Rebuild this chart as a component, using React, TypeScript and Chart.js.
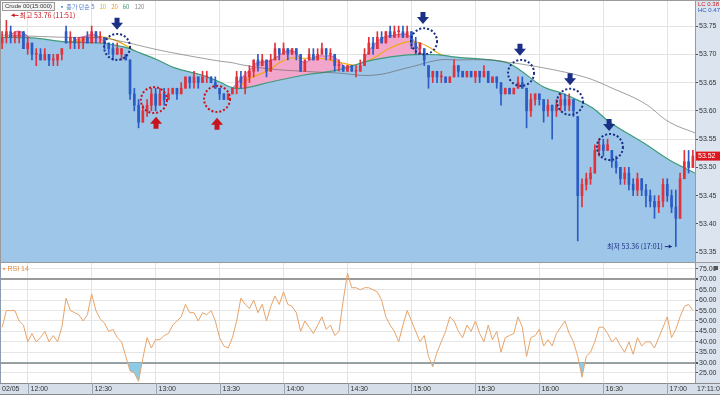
import React, { useEffect, useRef } from "react";
import { Chart, registerables } from "chart.js";
Chart.register(...registerables);

// ---- data: 2-minute candles starting 11:47 (slot i sits at minute 2i+1) ----
const candleOpen = [
  53.72, 53.73, 53.74, 53.73, 53.73, 53.74, 53.71, 53.72, 53.70, 53.70,
  53.69, 53.70, 53.69, 53.69, 53.70, 53.74, 53.72, 53.73, 53.72, 53.72,
  53.73, 53.72, 53.74, 53.73, 53.73, 53.72, 53.71, 53.70, 53.70, 53.70,
  53.69, 53.63, 53.61, 53.58, 53.60, 53.61, 53.63, 53.61, 53.63, 53.62,
  53.63, 53.64, 53.63, 53.64, 53.66, 53.65, 53.66, 53.65, 53.66, 53.66,
  53.65, 53.64, 53.63, 53.62, 53.63, 53.64, 53.66, 53.64, 53.66, 53.67,
  53.69, 53.68, 53.69, 53.67, 53.69, 53.71, 53.70, 53.71, 53.70, 53.71,
  53.70, 53.67, 53.69, 53.70, 53.69, 53.70, 53.71, 53.70, 53.70, 53.68,
  53.68, 53.67, 53.68, 53.67, 53.67, 53.68, 53.70, 53.72, 53.71, 53.73,
  53.72, 53.74, 53.73, 53.74, 53.74, 53.73, 53.74, 53.72, 53.71, 53.71,
  53.68, 53.66, 53.67, 53.66, 53.66, 53.65, 53.66, 53.68, 53.67, 53.66,
  53.67, 53.66, 53.67, 53.66, 53.67, 53.65, 53.66, 53.65, 53.63, 53.64,
  53.63, 53.64, 53.65, 53.64, 53.60, 53.62, 53.63, 53.62, 53.60, 53.61,
  53.60, 53.61, 53.62, 53.61, 53.62, 53.59, 53.45, 53.47, 53.48, 53.49,
  53.53, 53.54, 53.53, 53.53, 53.51, 53.50, 53.48, 53.49, 53.47, 53.46,
  53.48, 53.46, 53.45, 53.44, 53.43, 53.44, 53.47, 53.45, 53.43, 53.41,
  53.48, 53.51, 53.50,
];
const candleClose = [
  53.73, 53.74, 53.73, 53.73, 53.74, 53.71, 53.72, 53.70, 53.70, 53.69,
  53.70, 53.69, 53.69, 53.70, 53.71, 53.72, 53.73, 53.72, 53.72, 53.73,
  53.72, 53.74, 53.73, 53.73, 53.72, 53.71, 53.70, 53.71, 53.71, 53.69,
  53.63, 53.61, 53.58, 53.60, 53.61, 53.63, 53.61, 53.63, 53.62, 53.63,
  53.64, 53.63, 53.64, 53.66, 53.65, 53.66, 53.65, 53.66, 53.66, 53.65,
  53.64, 53.63, 53.62, 53.63, 53.64, 53.66, 53.65, 53.66, 53.67, 53.69,
  53.68, 53.69, 53.67, 53.69, 53.71, 53.70, 53.71, 53.70, 53.71, 53.70,
  53.67, 53.69, 53.70, 53.69, 53.70, 53.71, 53.70, 53.70, 53.68, 53.68,
  53.67, 53.68, 53.67, 53.67, 53.68, 53.70, 53.72, 53.71, 53.73, 53.72,
  53.74, 53.73, 53.74, 53.74, 53.73, 53.74, 53.72, 53.71, 53.72, 53.69,
  53.66, 53.67, 53.66, 53.66, 53.65, 53.66, 53.68, 53.67, 53.66, 53.67,
  53.66, 53.67, 53.66, 53.67, 53.65, 53.66, 53.65, 53.63, 53.64, 53.63,
  53.64, 53.65, 53.64, 53.60, 53.62, 53.63, 53.62, 53.60, 53.61, 53.60,
  53.61, 53.62, 53.61, 53.62, 53.60, 53.45, 53.47, 53.48, 53.49, 53.53,
  53.54, 53.53, 53.54, 53.51, 53.50, 53.48, 53.49, 53.47, 53.46, 53.48,
  53.46, 53.45, 53.44, 53.43, 53.44, 53.47, 53.45, 53.43, 53.41, 53.48,
  53.51, 53.50, 53.52,
];
const candleHigh = [
  53.74, 53.76, 53.75, 53.74, 53.74, 53.74, 53.73, 53.72, 53.71, 53.71,
  53.71, 53.70, 53.70, 53.70, 53.71, 53.75, 53.74, 53.73, 53.73, 53.73,
  53.74, 53.75, 53.74, 53.74, 53.73, 53.72, 53.72, 53.72, 53.71, 53.70,
  53.69, 53.64, 53.62, 53.61, 53.62, 53.64, 53.64, 53.64, 53.64, 53.64,
  53.64, 53.64, 53.65, 53.66, 53.66, 53.67, 53.66, 53.67, 53.67, 53.66,
  53.66, 53.64, 53.63, 53.63, 53.64, 53.67, 53.67, 53.67, 53.68, 53.69,
  53.70, 53.70, 53.69, 53.70, 53.72, 53.71, 53.72, 53.71, 53.71, 53.71,
  53.70, 53.69, 53.71, 53.71, 53.71, 53.72, 53.71, 53.71, 53.70, 53.69,
  53.68, 53.68, 53.68, 53.68, 53.69, 53.71, 53.73, 53.73, 53.74, 53.74,
  53.74, 53.75, 53.75, 53.75, 53.75, 53.75, 53.74, 53.73, 53.72, 53.71,
  53.68, 53.67, 53.67, 53.67, 53.66, 53.66, 53.69, 53.68, 53.67, 53.67,
  53.67, 53.67, 53.67, 53.68, 53.67, 53.66, 53.66, 53.65, 53.64, 53.64,
  53.64, 53.66, 53.66, 53.64, 53.63, 53.63, 53.63, 53.62, 53.62, 53.61,
  53.62, 53.63, 53.63, 53.63, 53.62, 53.59, 53.48, 53.49, 53.50, 53.54,
  53.55, 53.55, 53.55, 53.53, 53.52, 53.50, 53.50, 53.50, 53.48, 53.49,
  53.48, 53.47, 53.46, 53.45, 53.45, 53.48, 53.48, 53.46, 53.46, 53.49,
  53.53, 53.53, 53.53,
];
const candleLow = [
  53.71, 53.72, 53.72, 53.72, 53.72, 53.71, 53.70, 53.69, 53.68, 53.69,
  53.69, 53.68, 53.68, 53.68, 53.69, 53.72, 53.71, 53.71, 53.71, 53.71,
  53.72, 53.72, 53.72, 53.72, 53.71, 53.70, 53.69, 53.70, 53.69, 53.69,
  53.62, 53.60, 53.57, 53.58, 53.59, 53.60, 53.60, 53.61, 53.61, 53.62,
  53.63, 53.62, 53.63, 53.64, 53.64, 53.64, 53.64, 53.65, 53.65, 53.65,
  53.64, 53.62, 53.62, 53.62, 53.63, 53.63, 53.64, 53.63, 53.65, 53.66,
  53.67, 53.68, 53.66, 53.67, 53.69, 53.69, 53.70, 53.69, 53.70, 53.69,
  53.67, 53.67, 53.69, 53.69, 53.69, 53.70, 53.69, 53.69, 53.67, 53.67,
  53.67, 53.67, 53.67, 53.66, 53.67, 53.68, 53.70, 53.70, 53.71, 53.72,
  53.72, 53.73, 53.73, 53.73, 53.73, 53.73, 53.71, 53.70, 53.70, 53.68,
  53.64, 53.65, 53.65, 53.65, 53.65, 53.65, 53.66, 53.66, 53.66, 53.66,
  53.66, 53.65, 53.65, 53.66, 53.65, 53.65, 53.64, 53.61, 53.63, 53.63,
  53.63, 53.64, 53.64, 53.57, 53.59, 53.61, 53.61, 53.58, 53.59, 53.55,
  53.59, 53.60, 53.60, 53.60, 53.59, 53.37, 53.43, 53.46, 53.47, 53.49,
  53.52, 53.52, 53.53, 53.50, 53.49, 53.47, 53.47, 53.46, 53.45, 53.45,
  53.45, 53.43, 53.43, 53.41, 53.42, 53.43, 53.44, 53.42, 53.36, 53.41,
  53.48, 53.49, 53.50,
];
const rsiValues = [
  47, 55, 55, 55, 50, 48, 40, 44, 40, 42,
  45, 40, 43, 40, 47, 61, 55, 54, 53, 50,
  53, 63, 55, 51, 49, 45, 46, 42, 40, 33,
  26, 25, 21, 32, 42, 37, 41, 41, 43, 44,
  48, 50, 52, 58, 54, 54, 50, 54, 53, 55,
  50, 42, 38, 37, 42, 50, 61, 58, 56, 60,
  54, 58, 50, 57, 62, 58, 64, 58, 57, 54,
  45, 50, 47, 44, 48, 52, 46, 48, 43, 45,
  60, 73, 66, 66, 65, 66, 66, 65, 64, 60,
  52, 48, 45, 40, 48, 55, 50, 45, 40, 43,
  33, 28, 35, 40, 45, 52, 50, 45, 42, 48,
  45, 50, 44, 40, 48, 41, 45, 35, 42, 43,
  44, 52, 47, 33, 42, 43, 46, 38, 41, 38,
  44, 47, 50, 44, 40, 33, 23, 33, 35, 40,
  47, 47, 44, 40, 42, 38, 35, 40, 34, 42,
  38, 40, 40, 37, 42, 47, 52, 42, 46, 52,
  57, 58, 55,
];

// moving averages (minute from 11:47, price)
const maTimes = [0, 15, 31, 47, 58, 66, 74, 82, 95, 103, 109, 114, 127, 142, 158, 175, 191, 206, 214, 230, 238, 244, 255, 263, 271, 278, 286, 302, 314, 326];
const ma60 = [53.730, 53.729, 53.722, 53.720, 53.713, 53.702, 53.690, 53.676, 53.663, 53.651, 53.641, 53.640, 53.651, 53.663, 53.672, 53.690, 53.699, 53.699, 53.695, 53.690, 53.685, 53.672, 53.642, 53.632, 53.619, 53.605, 53.580, 53.543, 53.513, 53.490];
const ma120 = [53.734, 53.732, 53.730, 53.729, 53.722, 53.715, 53.708, 53.702, 53.693, 53.688, 53.685, 53.681, 53.674, 53.670, 53.667, 53.663, 53.676, 53.690, 53.690, 53.690, 53.686, 53.683, 53.676, 53.670, 53.663, 53.655, 53.642, 53.614, 53.580, 53.561];
const ma20Times = [0, 23, 38, 47, 54, 61, 70, 84, 98, 109, 116, 122, 127, 131, 136, 142, 150, 159, 167, 175, 183, 191, 197, 202, 206, 216, 235, 253, 272, 291, 310, 326];
const ma20 = [53.725, 53.718, 53.725, 53.731, 53.725, 53.711, 53.690, 53.655, 53.633, 53.633, 53.655, 53.665, 53.674, 53.685, 53.693, 53.693, 53.693, 53.686, 53.681, 53.693, 53.711, 53.722, 53.720, 53.711, 53.701, 53.686, 53.663, 53.628, 53.575, 53.531, 53.496, 53.481];
const ma5Times = [2.3, 5.6, 8.4, 11.3, 14.1, 16.9, 20, 32.8, 36.6, 39.9, 43.1, 46, 49.2, 51.6, 80, 106.9, 110.2, 114, 117.3, 120.5, 124.3, 127.6, 131.3, 134.6, 138.4, 140.7, 142.6, 145.4, 149.1, 152.4, 155.7, 158.5, 161.8, 165.1, 166.5, 167.9, 170.2, 173.5, 176.8, 180.6, 185.3, 190, 193.2, 196, 198.4, 200.7];
const ma5 = [53.721, 53.736, 53.741, 53.737, 53.728, 53.721, null, 53.714, 53.728, 53.732, 53.735, 53.732, 53.721, 53.710, null, 53.629, 53.645, 53.661, 53.673, 53.685, 53.687, 53.690, 53.699, 53.706, 53.704, 53.693, 53.685, 53.690, 53.697, 53.697, 53.697, 53.690, 53.678, 53.666, null, 53.669, 53.687, 53.708, 53.722, 53.731, 53.734, 53.736, 53.729, 53.711, 53.697, 53.686];

const timeTickMinutes = [13, 43, 73, 103, 133, 163, 193, 223, 253, 283, 313];
const timeTickLabels = ["12:00", "12:30", "13:00", "13:30", "14:00", "14:30", "15:00", "15:30", "16:00", "16:30", "17:00"];
const priceTicks = [53.35, 53.40, 53.45, 53.50, 53.55, 53.60, 53.65, 53.70, 53.75];
const rsiTicks = [25, 30, 35, 40, 45, 50, 55, 60, 65, 70, 75];
const rsiLevels = [30, 70];

// annotations (minute, price)
const blueCircles = [[54.9, 53.713], [198.9, 53.723], [244.4, 53.667], [267.4, 53.616], [286.1, 53.536]];
const redCircles = [[72.2, 53.619], [101.8, 53.621]];
const blueArrows = [[54.9, 53.754], [198.4, 53.764], [243.9, 53.708], [267.4, 53.656], [285.7, 53.575]];
const redArrows = [[73.2, 53.579], [101.8, 53.577]];
const highInfo = { t: 4, price: 53.76, label: "최고 53.76 (11:51)" };
const lowInfo = { t: 317, price: 53.36, label: "최저 53.36 (17:01)" };

const FONT = "'Liberation Sans', 'DejaVu Sans', sans-serif";
const KFONT = "'Noto Sans CJK KR', 'Liberation Sans', sans-serif";
const UP = "#e0323a";
const DOWN = "#2a5cc4";
const PANEL = "#dce5ef";
const T_MAX = 326;

const slotTime = (i: number) => 2 * i + 1;

function downArrow(ctx: CanvasRenderingContext2D, x: number, y: number, c: string) {
  ctx.fillStyle = c;
  ctx.beginPath();
  ctx.moveTo(x - 2.5, y - 6);
  ctx.lineTo(x + 2.5, y - 6);
  ctx.lineTo(x + 2.5, y - 1);
  ctx.lineTo(x + 6, y - 1);
  ctx.lineTo(x, y + 6);
  ctx.lineTo(x - 6, y - 1);
  ctx.lineTo(x - 2.5, y - 1);
  ctx.closePath();
  ctx.fill();
}
function upArrow(ctx: CanvasRenderingContext2D, x: number, y: number, c: string) {
  ctx.fillStyle = c;
  ctx.beginPath();
  ctx.moveTo(x - 2.5, y + 6);
  ctx.lineTo(x + 2.5, y + 6);
  ctx.lineTo(x + 2.5, y + 1);
  ctx.lineTo(x + 6, y + 1);
  ctx.lineTo(x, y - 6);
  ctx.lineTo(x - 6, y + 1);
  ctx.lineTo(x - 2.5, y + 1);
  ctx.closePath();
  ctx.fill();
}
function dottedCircle(ctx: CanvasRenderingContext2D, x: number, y: number, c: string) {
  ctx.save();
  ctx.strokeStyle = c;
  ctx.lineWidth = 2;
  ctx.setLineDash([2, 2]);
  ctx.beginPath();
  ctx.arc(x, y, 13, 0, Math.PI * 2);
  ctx.stroke();
  ctx.restore();
}

const panelBg = {
  id: "panelBg",
  beforeDraw(chart: any) {
    const { ctx, chartArea, width, height } = chart;
    ctx.save();
    ctx.fillStyle = "#ffffff";
    ctx.fillRect(0, 0, width, height);
    ctx.fillStyle = PANEL;
    ctx.fillRect(chartArea.right, 0, width - chartArea.right, height);
    ctx.restore();
  },
};

const mainDecor = {
  id: "mainDecor",
  afterDraw(chart: any) {
    const { ctx, chartArea, width, scales } = chart;
    const x = scales.x, y = scales.y;
    ctx.save();
    ctx.strokeStyle = "#8c9bb0";
    ctx.lineWidth = 1;
    ctx.beginPath();
    ctx.moveTo(chartArea.right + 0.5, 0);
    ctx.lineTo(chartArea.right + 0.5, chart.height);
    ctx.stroke();
    ctx.strokeStyle = "#9a9a9a";
    ctx.beginPath();
    ctx.moveTo(0, 0.5);
    ctx.lineTo(width, 0.5);
    ctx.moveTo(0.5, 0);
    ctx.lineTo(0.5, chart.height);
    ctx.moveTo(0, chart.height - 0.5);
    ctx.lineTo(width, chart.height - 0.5);
    ctx.stroke();

    blueCircles.forEach(([t, p]) => dottedCircle(ctx, x.getPixelForValue(t), y.getPixelForValue(p), "#1a2f86"));
    redCircles.forEach(([t, p]) => dottedCircle(ctx, x.getPixelForValue(t), y.getPixelForValue(p), "#c8141e"));
    blueArrows.forEach(([t, p]) => downArrow(ctx, x.getPixelForValue(t), y.getPixelForValue(p), "#1a2f86"));
    redArrows.forEach(([t, p]) => upArrow(ctx, x.getPixelForValue(t), y.getPixelForValue(p), "#c8141e"));

    const hx = x.getPixelForValue(highInfo.t) + 3;
    const hy = y.getPixelForValue(highInfo.price) - 5;
    ctx.strokeStyle = "#c8141e";
    ctx.fillStyle = "#c8141e";
    ctx.lineWidth = 1;
    ctx.beginPath();
    ctx.moveTo(hx + 7, hy);
    ctx.lineTo(hx, hy);
    ctx.stroke();
    ctx.beginPath();
    ctx.moveTo(hx, hy);
    ctx.lineTo(hx + 3, hy - 2);
    ctx.lineTo(hx + 3, hy + 2);
    ctx.closePath();
    ctx.fill();
    ctx.font = `7px ${KFONT}`;
    ctx.textBaseline = "middle";
    ctx.textAlign = "left";
    ctx.fillText(highInfo.label, hx + 8, hy);

    const lx = x.getPixelForValue(lowInfo.t) - 4;
    const ly = y.getPixelForValue(lowInfo.price);
    ctx.fillStyle = "#1a2f86";
    ctx.strokeStyle = "#1a2f86";
    ctx.textAlign = "right";
    ctx.fillText(lowInfo.label, lx - 9, ly);
    ctx.beginPath();
    ctx.moveTo(lx - 7, ly);
    ctx.lineTo(lx, ly);
    ctx.stroke();
    ctx.beginPath();
    ctx.moveTo(lx, ly);
    ctx.lineTo(lx - 3, ly - 2);
    ctx.lineTo(lx - 3, ly + 2);
    ctx.closePath();
    ctx.fill();

    // header legend
    ctx.textAlign = "left";
    ctx.font = `6px ${FONT}`;
    const title = "Crude 00(15:000)";
    const tw = ctx.measureText(title).width;
    ctx.fillStyle = "#f4f4f4";
    ctx.fillRect(2, 2, tw + 5, 8);
    ctx.strokeStyle = "#9a9a9a";
    ctx.strokeRect(2.5, 2.5, tw + 5, 8);
    ctx.fillStyle = "#333";
    ctx.fillText(title, 5, 6.5);
    ctx.font = `6px ${KFONT}`;
    const parts: [string, string][] = [["▪ 종가 단순 5", "#4a7cc8"], ["10", "#d9b400"], ["20", "#e89a1c"], ["60", "#3d9b6b"], ["120", "#888888"]];
    let px = tw + 12;
    parts.forEach(([s, c]) => {
      ctx.fillStyle = c;
      ctx.fillText(s, px, 6.5);
      px += ctx.measureText(s).width + 5;
    });

    ctx.font = `6px ${FONT}`;
    ctx.fillStyle = "#c8141e";
    ctx.fillText("LC 0.38", chartArea.right + 3, 4);
    ctx.fillStyle = "#1f57c3";
    ctx.fillText("HC 0.47", chartArea.right + 3, 10);

    const last = candleClose[candleClose.length - 1];
    const cy = y.getPixelForValue(last);
    ctx.fillStyle = "#e0161e";
    ctx.fillRect(chartArea.right + 1, cy - 4.5, width - chartArea.right - 1, 9);
    ctx.fillStyle = "#fff";
    ctx.font = `7px ${FONT}`;
    ctx.fillText(last.toFixed(2), chartArea.right + 3, cy);
    ctx.restore();
  },
};

const rsiDecor = {
  id: "rsiDecor",
  afterDraw(chart: any) {
    const { ctx, chartArea, width, height, scales } = chart;
    const x = scales.x;
    ctx.save();
    ctx.strokeStyle = "#8c9bb0";
    ctx.lineWidth = 1;
    ctx.beginPath();
    ctx.moveTo(chartArea.right + 0.5, 0);
    ctx.lineTo(chartArea.right + 0.5, height);
    ctx.moveTo(0.5, 0);
    ctx.lineTo(0.5, height);
    ctx.stroke();
    ctx.fillStyle = "#d6dfe9";
    ctx.fillRect(0, chartArea.bottom, width, height - chartArea.bottom);
    ctx.strokeStyle = "#8a8a8a";
    ctx.beginPath();
    ctx.moveTo(0, chartArea.bottom + 0.5);
    ctx.lineTo(width, chartArea.bottom + 0.5);
    ctx.moveTo(0, height - 0.5);
    ctx.lineTo(width, height - 0.5);
    ctx.stroke();
    ctx.font = `7px ${FONT}`;
    ctx.fillStyle = "#333";
    ctx.textBaseline = "middle";
    ctx.textAlign = "left";
    const my = chartArea.bottom + (height - chartArea.bottom) / 2;
    ctx.fillText("02/05", 2, my);
    ctx.strokeStyle = "#9aa6b4";
    timeTickMinutes.forEach((t, i) => {
      const px = Math.round(x.getPixelForValue(t)) + 0.5;
      ctx.beginPath();
      ctx.moveTo(px, chartArea.bottom);
      ctx.lineTo(px, height);
      ctx.stroke();
      ctx.fillText(timeTickLabels[i], px + 2, my);
    });
    ctx.fillText("17:11:00", chartArea.right + 2, my);
    ctx.fillStyle = "#e08a3c";
    ctx.font = `7px ${FONT}`;
    ctx.fillText("▪ RSI 14", 3, 6);
    ctx.fillStyle = "#555";
    ctx.fillRect(width - 6, 3, 4, 4);
    ctx.restore();
  },
};

const zeroPadY = (s: any) => { s.width = 25; s.paddingTop = 0; s.paddingBottom = 0; };
const zeroX = (s: any) => { s.height = 0; s.paddingLeft = 0; s.paddingRight = 0; };

export default function App() {
  const mainRef = useRef<HTMLCanvasElement | null>(null);
  const rsiRef = useRef<HTMLCanvasElement | null>(null);

  useEffect(() => {
    document.body.style.margin = "0";
    const wick = candleHigh.map((h, i) => ({ x: slotTime(i), y: [candleLow[i], h] }));
    const body = candleOpen.map((o, i) => ({ x: slotTime(i), y: [Math.min(o, candleClose[i]), Math.max(o, candleClose[i])] }));
    const colors = candleOpen.map((o, i) => (candleClose[i] >= o ? UP : DOWN));
    const xy = (ts: number[], vs: (number | null)[]) => ts.map((t, i) => ({ x: t, y: vs[i] }));

    const main = new Chart(mainRef.current as HTMLCanvasElement, {
      type: "bar",
      data: {
        datasets: [
          { type: "bar", label: "body", data: body as any, backgroundColor: colors, barThickness: 2, minBarLength: 1, grouped: false, order: 1 } as any,
          { type: "bar", label: "wick", data: wick as any, backgroundColor: colors, barThickness: 1, grouped: false, order: 2 } as any,
          { type: "line", label: "MA120", data: xy(maTimes, ma120), borderColor: "rgba(95,95,95,0.6)", borderWidth: 1, pointRadius: 0, tension: 0.4, fill: false, order: 3 } as any,
          { type: "line", label: "MA60", data: xy(maTimes, ma60), borderColor: "#3d9b78", backgroundColor: "#9ec6e8", borderWidth: 1.2, pointRadius: 0, tension: 0.4, fill: "start", order: 5 } as any,
          { type: "line", label: "MA20", data: xy(ma20Times, ma20), borderColor: "#f0a818", borderWidth: 1.2, pointRadius: 0, tension: 0.4, fill: false, order: 7 } as any,
          { type: "line", label: "MA5", data: xy(ma5Times, ma5), borderColor: "#c45f9a", backgroundColor: "#f3a6cb", borderWidth: 1, pointRadius: 0, tension: 0.3, spanGaps: false, fill: "start", order: 8 } as any,
        ],
      },
      options: {
        responsive: false,
        animation: false,
        devicePixelRatio: 1,
        layout: { padding: 0 },
        plugins: { legend: { display: false }, tooltip: { enabled: false } },
        scales: {
          x: {
            type: "linear",
            offset: false,
            min: 0,
            max: T_MAX,
            afterBuildTicks: (s: any) => { s.ticks = timeTickMinutes.map((v) => ({ value: v })); },
            afterFit: zeroX,
            ticks: { display: false },
            grid: { color: "#e3e3e3", drawTicks: false, offset: false },
            border: { display: false },
          },
          y: {
            position: "right",
            min: 53.331,
            max: 53.796,
            afterBuildTicks: (s: any) => { s.ticks = priceTicks.map((v) => ({ value: v })); },
            afterFit: zeroPadY,
            ticks: { font: { size: 7, family: FONT }, color: "#333", padding: 1, callback: (v: any) => Number(v).toFixed(2) },
            grid: { color: "#e3e3e3", tickLength: 3, tickColor: "#555" },
            border: { display: false },
          },
        } as any,
      },
      plugins: [panelBg, mainDecor],
    });

    const rsi = new Chart(rsiRef.current as HTMLCanvasElement, {
      type: "line",
      data: {
        datasets: [
          {
            label: "RSI 14",
            data: rsiValues.map((v, i) => ({ x: slotTime(i), y: v })),
            borderColor: "#e8a46a",
            borderWidth: 1,
            pointRadius: 0,
            tension: 0,
            fill: { target: { value: 30 }, above: "rgba(0,0,0,0)", below: "#8ccbe6" },
          } as any,
        ],
      },
      options: {
        responsive: false,
        animation: false,
        devicePixelRatio: 1,
        layout: { padding: { bottom: 12 } },
        plugins: { legend: { display: false }, tooltip: { enabled: false } },
        scales: {
          x: {
            type: "linear",
            offset: false,
            min: 0,
            max: T_MAX,
            afterBuildTicks: (s: any) => { s.ticks = timeTickMinutes.map((v) => ({ value: v })); },
            afterFit: zeroX,
            ticks: { display: false },
            grid: { color: "#e3e3e3", drawTicks: false },
            border: { display: false },
          },
          y: {
            position: "right",
            min: 20.19,
            max: 77.88,
            afterBuildTicks: (s: any) => { s.ticks = rsiTicks.map((v) => ({ value: v })); },
            afterFit: zeroPadY,
            ticks: { font: { size: 7, family: FONT }, color: "#333", padding: 1, callback: (v: any) => Number(v).toFixed(2) },
            grid: {
              color: (c: any) => (rsiLevels.includes(c.tick?.value) ? "#9a9a9a" : "#e6e6e6"),
              lineWidth: (c: any) => (rsiLevels.includes(c.tick?.value) ? 2 : 1),
              tickLength: 3,
              tickColor: "#555",
            },
            border: { display: false },
          },
        } as any,
      },
      plugins: [panelBg, rsiDecor],
    });

    return () => {
      main.destroy();
      rsi.destroy();
    };
  }, []);

  return (
    <div style={{ width: 720, height: 395, position: "absolute", left: 0, top: 0 }}>
      <canvas ref={mainRef} width={720} height={263} style={{ display: "block", width: 720, height: 263 }} />
      <canvas ref={rsiRef} width={720} height={132} style={{ display: "block", width: 720, height: 132 }} />
    </div>
  );
}
